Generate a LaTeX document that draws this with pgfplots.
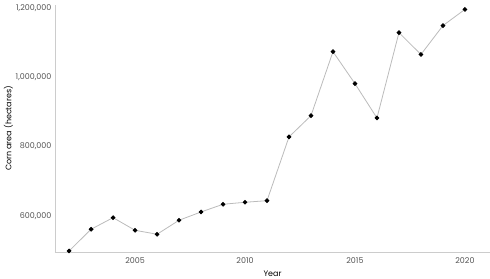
\documentclass[border=0pt]{standalone}
\usepackage{pgfplots}
\pgfplotsset{compat=1.18}
\usepackage{fontspec}
\setmainfont{Poppins}
\definecolor{axgray}{HTML}{CCCCCC}
\definecolor{linegray}{HTML}{BBBBBB}
\definecolor{ticktext}{HTML}{555555}
\begin{document}
\begin{tikzpicture}
\begin{axis}[
  name=ax,
  scale only axis,
  width=435bp, height=247bp,
  xmin=2001.36, xmax=2021.14,
  ymin=496000, ymax=1208700,
  axis x line=bottom, axis y line=left,
  axis line style={axgray, line width=1pt, -},
  xtick={2005,2010,2015,2020},
  ytick={600000,800000,1000000,1200000},
  major tick length=0pt,
  /pgf/number format/assume math mode=true,
  xticklabel style={font=\fontsize{8}{9}\selectfont, text=ticktext, yshift=-2pt, /pgf/number format/1000 sep={}},
  yticklabel style={font=\fontsize{8}{9}\selectfont, text=ticktext, /pgf/number format/1000 sep={,}, /pgf/number format/fixed},
  scaled y ticks=false,
  xticklabel={\pgfmathprintnumber[1000 sep={}]{\tick}},
  xlabel={Year}, ylabel={Corn area (hectares)},
  label style={font=\fontsize{8}{9}\selectfont},
  xlabel style={yshift=-1pt},
  ylabel style={yshift=-4pt},
  clip=false,
]
\addplot[color=linegray, line width=0.8pt, mark=*, mark size=1.9pt,
  mark options={fill=black, draw=black}] coordinates {
(2002,499000) (2003,561600) (2004,595100) (2005,558700) (2006,547200)
(2007,587600) (2008,611500) (2009,633700) (2010,639500) (2011,644100)
(2012,828000) (2013,889400) (2014,1074000) (2015,981800) (2016,882700)
(2017,1128900) (2018,1066000) (2019,1149200) (2020,1196000)
};
\end{axis}
\pgfresetboundingbox
\useasboundingbox ([xshift=-55bp,yshift=-27bp]ax.south west) rectangle ([yshift=5bp]ax.north east);
\end{tikzpicture}
\end{document}
